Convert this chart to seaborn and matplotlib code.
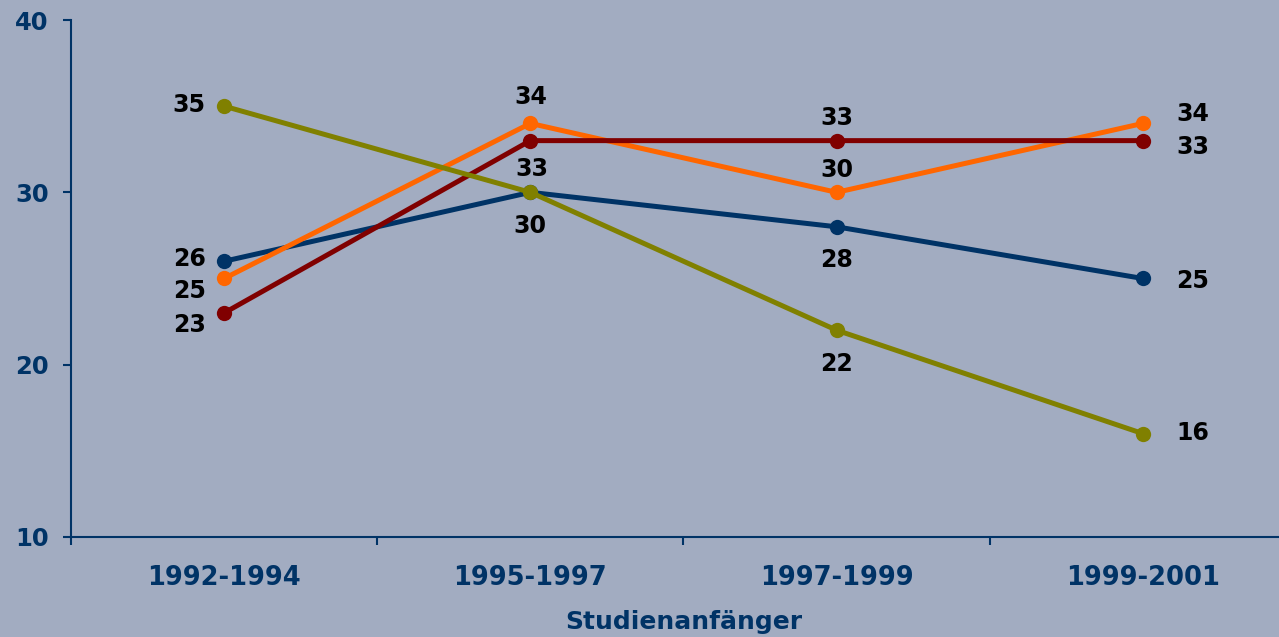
import matplotlib
matplotlib.use("Agg")
import matplotlib.pyplot as plt
import seaborn as sns
import pandas as pd
from matplotlib.ticker import FixedLocator

categories = ["1992-1994", "1995-1997", "1997-1999", "1999-2001"]
series_names = ["Reihe 1", "Reihe 2", "Reihe 3", "Reihe 4"]
values_blue = [26, 30, 28, 25]
values_orange = [25, 34, 30, 34]
values_red = [23, 33, 33, 33]
values_olive = [35, 30, 22, 16]
yticks = [10, 20, 30, 40]
x_label = "Studienanfänger"

colors = ["#003366", "#FF6600", "#800000", "#808000"]
bg = "#A2ACC1"
axis_color = "#003366"

all_values = [values_blue, values_orange, values_red, values_olive]
rows = []
for name, vals in zip(series_names, all_values):
    for c, v in zip(categories, vals):
        rows.append({"Zeitraum": c, "Wert": v, "Reihe": name})
df = pd.DataFrame(rows)

sns.set_theme(style="white")
plt.rcParams["font.family"] = ["DejaVu Sans"]

fig = plt.figure(figsize=(12.79, 6.37), dpi=100, facecolor=bg)
ax = fig.add_axes([71 / 1279, 100 / 637, (1296 - 71) / 1279, (537 - 20) / 637])
ax.set_facecolor(bg)

sns.lineplot(data=df, x="Zeitraum", y="Wert", hue="Reihe", palette=colors,
             marker="o", markersize=11, markeredgewidth=0, linewidth=3.6,
             legend=False, ax=ax, sort=False)

ax.set_xlim(-0.5, 3.5)
ax.set_ylim(10, 40)
ax.set_yticks(yticks)
ax.set_xticks(range(len(categories)))
ax.set_xticklabels(categories)
ax.xaxis.set_minor_locator(FixedLocator([-0.5, 0.5, 1.5, 2.5, 3.5]))

ax.tick_params(axis="x", which="major", length=0, pad=20, labelsize=18.5,
               labelcolor=axis_color)
ax.tick_params(axis="x", which="minor", length=6, width=1.5, color=axis_color,
               direction="out", bottom=True)
ax.tick_params(axis="y", which="major", length=6, width=1.5, color=axis_color,
               direction="out", pad=10, labelsize=17.5, labelcolor=axis_color, left=True)
for lab in ax.get_xticklabels() + ax.get_yticklabels():
    lab.set_fontweight("bold")

for s in ["top", "right"]:
    ax.spines[s].set_visible(False)
for s in ["left", "bottom"]:
    ax.spines[s].set_color(axis_color)
    ax.spines[s].set_linewidth(1.5)

ax.set_xlabel(x_label, fontsize=18, fontweight="bold", color=axis_color, labelpad=14)
ax.set_ylabel("")

# label offsets in pixels (dx, dy) per series and category
offsets = {
    0: [(-35, 2), (0, -34), (0, -33), (50, -3)],
    1: [(-35, -13), (0, 26), (0, 22), (50, 9)],
    2: [(-35, -12), (2, -28), (0, 23), (50, -6)],
    3: [(-35, 1), (0, -34), (0, -34), (50, 1)],
}
for si, vals in enumerate(all_values):
    for ci, v in enumerate(vals):
        if si == 3 and ci == 1:
            continue  # shares label "30" with blue series
        dx, dy = offsets[si][ci]
        ax.annotate(str(v), (ci, v), xytext=(dx, dy), textcoords="offset pixels",
                    ha="center", va="center", fontsize=17, fontweight="bold",
                    color="black")

fig.savefig("out.png", dpi=100, facecolor=bg)
